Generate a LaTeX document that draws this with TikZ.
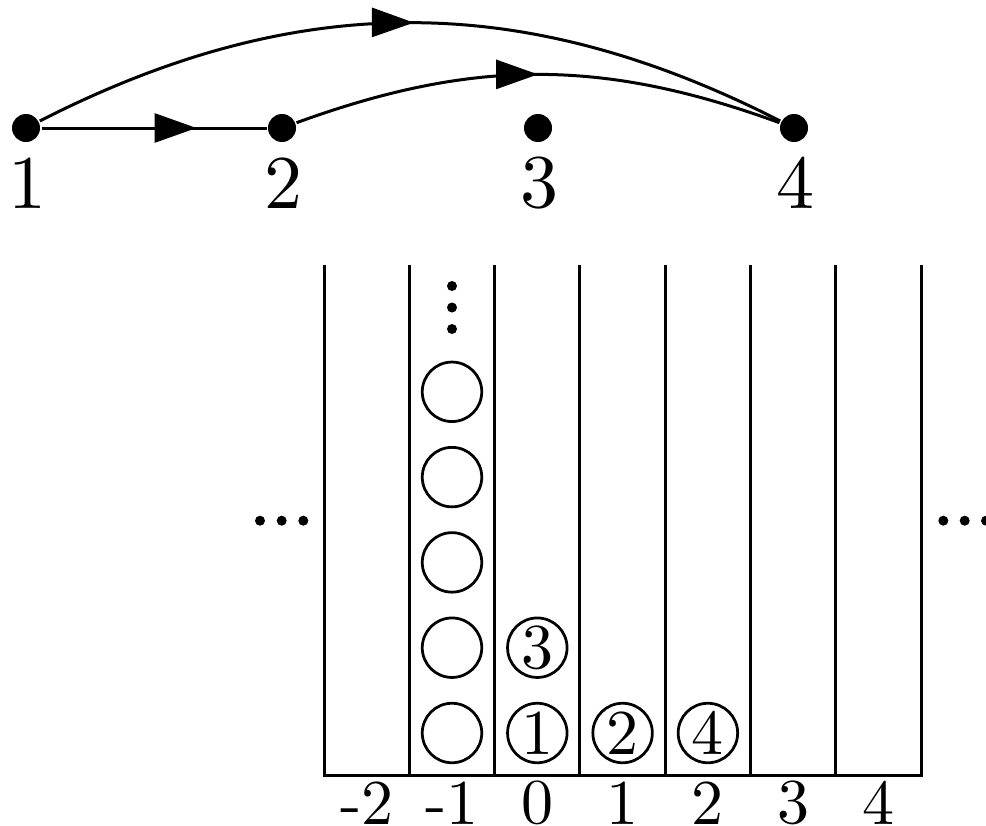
\documentclass[tikz,border=0pt]{standalone}
\usepackage{fontspec}
\setmainfont{lmroman10-regular.otf}
\usetikzlibrary{arrows.meta,decorations.markings}
\begin{document}
\begin{tikzpicture}[x=0.2pt,y=0.2pt,line width=0.6pt,
  vertex/.style={circle,fill,inner sep=0pt,minimum size=5.6pt},
  vlabel/.style={inner sep=0pt,font=\fontsize{15.2}{18}\selectfont},
  axislabel/.style={inner sep=0pt,font=\fontsize{12.8}{15}\selectfont},
  ball/.style={circle,draw,line width=0.55pt,minimum size=11.9pt,inner sep=0pt,
    font=\fontsize{12.8}{15}\selectfont},
  smalldot/.style={circle,fill,inner sep=0pt,minimum size=2pt},
  flow/.style={postaction={decorate},decoration={markings,
    mark=at position #1 with {\arrow{Triangle[length=8.4pt,width=5.8pt]}}}},
]
\useasboundingbox (0,0) rectangle (986,-826);

% graph on four vertices
\node[vertex] (n1) at (26,-128) {};
\node[vertex] (n2) at (282,-128) {};
\node[vertex] (n3) at (538,-128) {};
\node[vertex] (n4) at (794,-128) {};
\node[vlabel] (l1) at (27,-183) {1};
\node[vlabel] (l2) at (283,-183) {2};
\node[vlabel] (l3) at (539,-183) {3};
\node[vlabel] (l4) at (795,-183) {4};

\draw[flow=0.689] (n1) -- (n2);
\draw[flow=0.505] (n1) to[bend left=27] (n4);
\draw[flow=0.5] (n2) to[bend left=20] (n4);

% columns of the stacking board
\foreach \k in {1,...,6}
  \draw (324+85.3*\k,-265) -- (324+85.3*\k,-775);
\draw (324,-265) -- (324,-775) -- (921,-775) -- (921,-265);

% column indices
\foreach \i [count=\c from 0] in {-2,...,4}
  \node[axislabel] (ax\c) at ({324+85.3*(\c+0.5)},-803) {\i};

% occupied slots
\foreach \j in {0,...,4}
  \node[ball] (b\j) at (452,{-733+85.3*\j}) {};
\node[ball] (c1) at (537.3,-733) {1};
\node[ball] (c3) at (537.3,-647.7) {3};
\node[ball] (c2) at (622.6,-733) {2};
\node[ball] (c4) at (707.9,-733) {4};

% ellipses
\foreach \y [count=\c] in {-286,-307.5,-329}
  \node[smalldot] (v\c) at (452,\y) {};
\foreach \x [count=\c] in {260,281.7,303.3}
  \node[smalldot] (h\c) at (\x,-520.7) {};
\foreach \x [count=\c] in {943.3,964.7,986}
  \node[smalldot] (r\c) at (\x,-520.7) {};
\end{tikzpicture}
\end{document}
